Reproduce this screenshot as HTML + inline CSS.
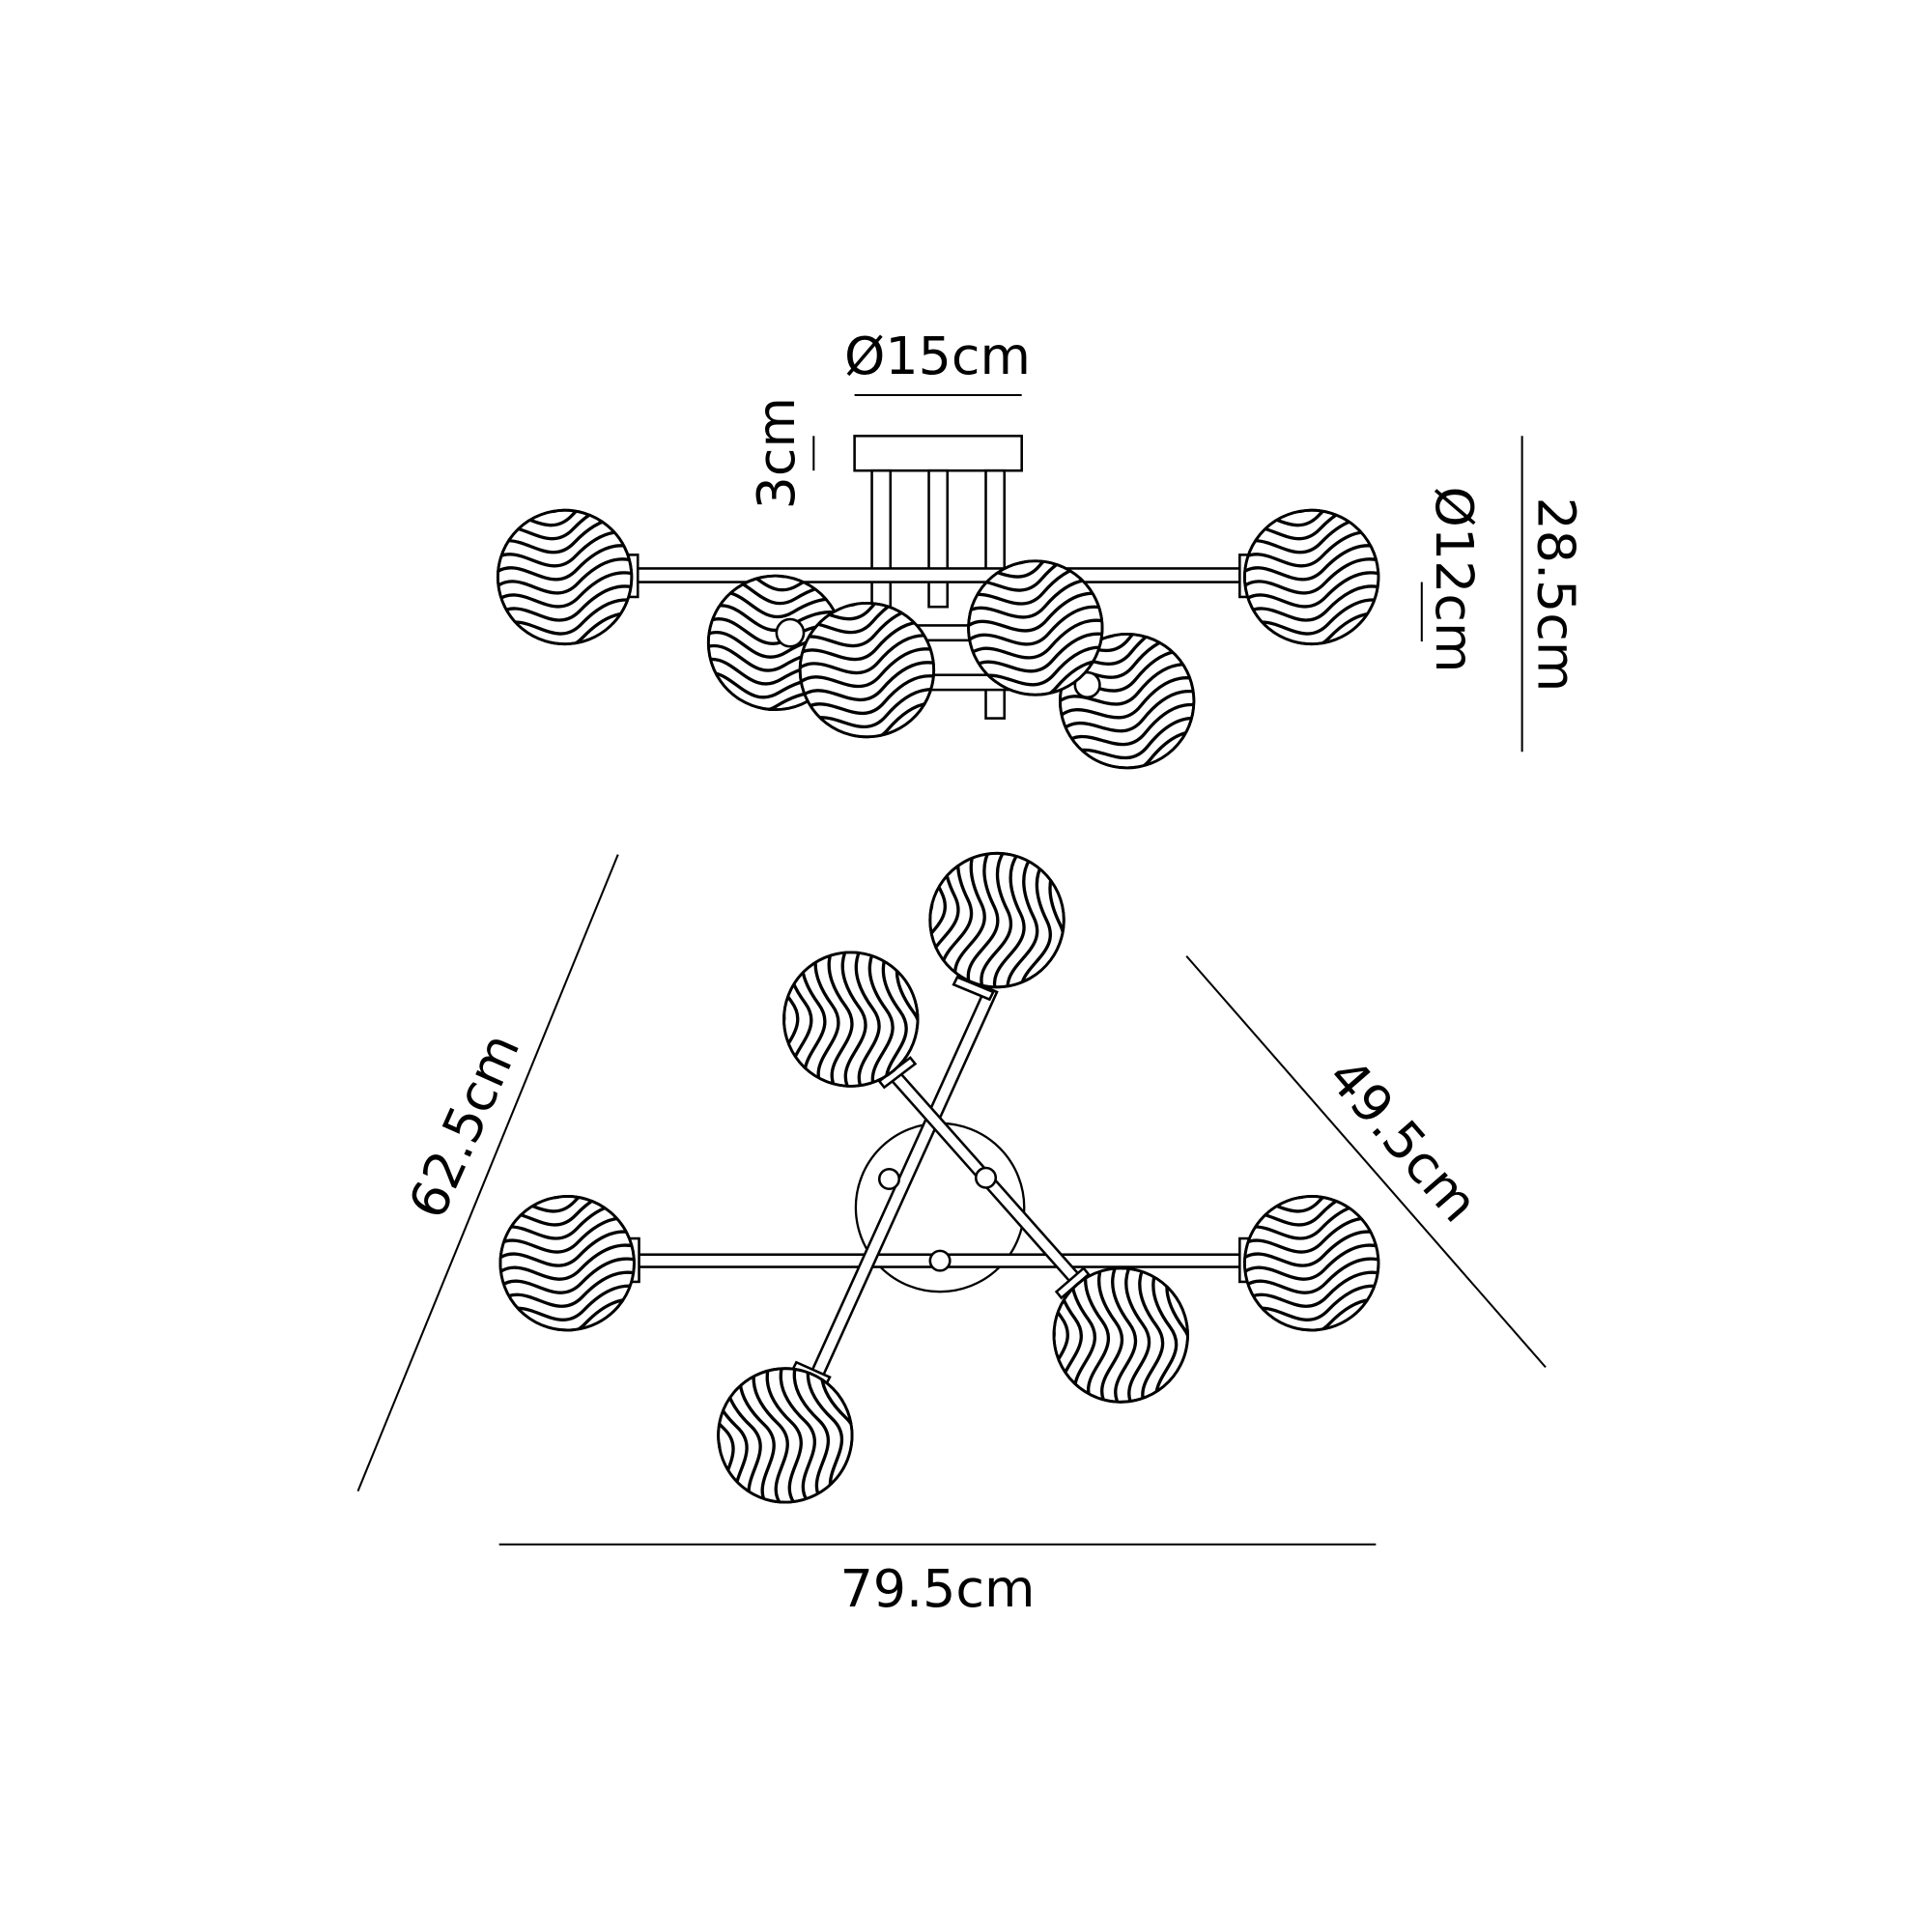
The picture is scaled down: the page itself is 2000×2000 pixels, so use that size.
<!DOCTYPE html>
<html><head><meta charset="utf-8"><style>
html,body{margin:0;padding:0;background:#fff}
svg{display:block}
text{font-family:"DejaVu Sans","Liberation Sans",sans-serif;fill:#000}
</style></head><body>
<svg width="2000" height="2000" viewBox="0 0 1560 1560" xmlns="http://www.w3.org/2000/svg">
<defs>
<clipPath id="cp"><circle cx="0" cy="0" r="53"/></clipPath>
<g id="gl">
<circle cx="0" cy="0" r="54" fill="#fff" stroke="#000" stroke-width="2.2"/>
<g clip-path="url(#cp)" fill="none" stroke="#000" stroke-width="2.6">
<path d="M-60 -60 c25 -22 45 22 70 0 s45 -22 70 0"/>
<path d="M-60 -49 c25 -22 45 22 70 0 s45 -22 70 0"/>
<path d="M-60 -38 c25 -22 45 22 70 0 s45 -22 70 0"/>
<path d="M-60 -27 c25 -22 45 22 70 0 s45 -22 70 0"/>
<path d="M-60 -16 c25 -22 45 22 70 0 s45 -22 70 0"/>
<path d="M-60 -5 c25 -22 45 22 70 0 s45 -22 70 0"/>
<path d="M-60 6 c25 -22 45 22 70 0 s45 -22 70 0"/>
<path d="M-60 17 c25 -22 45 22 70 0 s45 -22 70 0"/>
<path d="M-60 28 c25 -22 45 22 70 0 s45 -22 70 0"/>
<path d="M-60 39 c25 -22 45 22 70 0 s45 -22 70 0"/>
<path d="M-60 50 c25 -22 45 22 70 0 s45 -22 70 0"/>
<path d="M-60 61 c25 -22 45 22 70 0 s45 -22 70 0"/>
</g>
<circle cx="0" cy="0" r="54" fill="none" stroke="#000" stroke-width="2.2"/>
</g>
</defs>
<g stroke="#000" fill="none" stroke-width="1.6">
<line x1="690" y1="319" x2="825" y2="319"/>
<line x1="657" y1="352" x2="657" y2="380"/>
<line x1="1148" y1="470" x2="1148" y2="518"/>
<line x1="1229" y1="352" x2="1229" y2="607"/>
<rect x="690" y="352" width="135" height="28" fill="#fff" stroke-width="2"/>
<rect x="704" y="380" width="15" height="120" fill="#fff" stroke-width="2"/>
<rect x="750" y="380" width="15" height="110" fill="#fff" stroke-width="2"/>
<rect x="796" y="380" width="15" height="200" fill="#fff" stroke-width="2"/>
<rect x="512" y="459" width="491" height="11" fill="#fff" stroke-width="2"/>
<rect x="507" y="448" width="8" height="34" fill="#fff" stroke-width="2"/>
<rect x="1001" y="448" width="8" height="34" fill="#fff" stroke-width="2"/>
<rect x="640" y="505" width="240" height="12" fill="#fff" stroke-width="2"/>
<rect x="640" y="545" width="240" height="12" fill="#fff" stroke-width="2"/>
</g>
<use href="#gl" transform="translate(456,466) rotate(-5)"/>
<use href="#gl" transform="translate(1059,466) rotate(-5)"/>
<use href="#gl" transform="translate(626,519) rotate(10)"/>
<g stroke="#000" stroke-width="2" fill="#fff"><circle cx="638" cy="511" r="11"/></g>
<use href="#gl" transform="translate(910,566) rotate(-10)"/>
<g stroke="#000" stroke-width="2" fill="#fff"><circle cx="878" cy="553" r="10"/></g>
<use href="#gl" transform="translate(700,541) rotate(-8)"/>
<use href="#gl" transform="translate(836,507) rotate(-8)"/>
<text x="757" y="302" font-size="42" text-anchor="middle">Ø15cm</text>
<text transform="translate(641,366) rotate(-90)" font-size="42" text-anchor="middle">3cm</text>
<text transform="translate(1160,468) rotate(90)" font-size="42" text-anchor="middle">Ø12cm</text>
<text transform="translate(1242,480) rotate(90)" font-size="42" text-anchor="middle">28.5cm</text>

<g stroke="#000" fill="none" stroke-width="1.6">
<line x1="499" y1="690" x2="289" y2="1204"/>
<line x1="958" y1="772" x2="1248" y2="1104"/>
<line x1="403" y1="1247" x2="1111" y2="1247"/>
<circle cx="759" cy="975" r="68" fill="#fff" stroke-width="1.8"/>
<rect x="513" y="1013" width="490" height="10" fill="#fff" stroke-width="2"/>
<rect x="508" y="1000" width="8" height="35" fill="#fff" stroke-width="2"/>
<rect x="1001" y="1000" width="8" height="35" fill="#fff" stroke-width="2"/>
<polygon points="796,797 805,801 665,1110 656,1106" fill="#fff" stroke-width="2"/>
<polygon points="716,868 723,862 872,1030 865,1036" fill="#fff" stroke-width="2"/>
<circle cx="718" cy="952" r="8" fill="#fff" stroke-width="2"/>
<circle cx="796" cy="951" r="8" fill="#fff" stroke-width="2"/>
<circle cx="759" cy="1018" r="8" fill="#fff" stroke-width="2"/>
<polygon points="773,789 802,801 799,807 770,795" fill="#fff" stroke-width="2"/>
<polygon points="710,873 735,854 739,859 714,878" fill="#fff" stroke-width="2"/>
<polygon points="643,1100 670,1112 667,1118 640,1106" fill="#fff" stroke-width="2"/>
<polygon points="853,1043 875,1024 879,1029 857,1048" fill="#fff" stroke-width="2"/>
</g>
<use href="#gl" transform="translate(458,1020) rotate(-5)"/>
<use href="#gl" transform="translate(1059,1020) rotate(-5)"/>
<use href="#gl" transform="translate(805,743) rotate(-75)"/>
<use href="#gl" transform="translate(687,823) rotate(-85)"/>
<use href="#gl" transform="translate(634,1159) rotate(-95)"/>
<use href="#gl" transform="translate(905,1078) rotate(-85)"/>
<text transform="translate(388,915) rotate(-66)" font-size="42" text-anchor="middle">62.5cm</text>
<text transform="translate(1122,930) rotate(49)" font-size="42" text-anchor="middle">49.5cm</text>
<text x="757" y="1297" font-size="42" text-anchor="middle">79.5cm</text>
</svg>
</body></html>
